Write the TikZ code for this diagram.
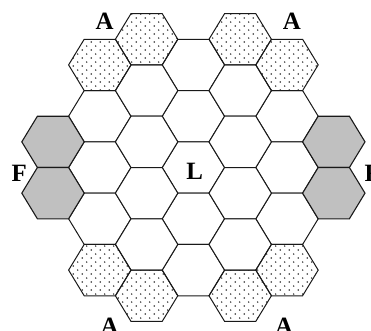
\documentclass[tikz,border=0pt]{standalone}
\usepackage{fontspec}
\setmainfont{Liberation Serif}
\usetikzlibrary{patterns}
\pgfdeclarepatternformonly{hexdots}{\pgfqpoint{0pt}{0pt}}{\pgfqpoint{9pt}{8pt}}{\pgfqpoint{9pt}{8pt}}{%
  \pgfpathcircle{\pgfqpoint{2.25pt}{2pt}}{0.8pt}%
  \pgfpathcircle{\pgfqpoint{6.75pt}{6pt}}{0.8pt}%
  \pgfusepath{fill}%
}
\definecolor{hexgray}{RGB}{192,192,192}
\tikzset{
  hex/.pic={\path[pic actions] (31.2,0) -- (15.6,25.65) -- (-15.6,25.65) -- (-31.2,0) -- (-15.6,-25.65) -- (15.6,-25.65) -- cycle;},
  whitehex/.style={draw=black!90, line width=1pt, fill=white},
  dothex/.style={draw=black!90, line width=1pt, pattern=hexdots, pattern color=black!80},
  grayhex/.style={draw=black!90, line width=1.1pt, fill=hexgray},
  lbl/.style={inner sep=0pt, font=\fontsize{25}{25}\selectfont\bfseries}
}
\begin{document}
\begin{tikzpicture}[x=1bp,y=-1bp]
\useasboundingbox (0,0) rectangle (371,331);
% centre column
\foreach \j in {-2,...,2}
  \pic[whitehex] at (193.4,{167.5+51.3*\j}) {hex};
% columns 1 and 5
\foreach \cx in {99.8,287.0} {
  \foreach \j in {-1,0,1}
    \pic[whitehex] at (\cx,{167.5+51.3*\j}) {hex};
}
% columns 2 and 4
\foreach \cx in {146.6,240.2} {
  \foreach \j in {-2,...,1}
    \pic[whitehex] at (\cx,{167.5+51.3*(\j+0.5)}) {hex};
}
% dotted hexagons
\foreach \cx in {99.8,287.0} {
  \pic[dothex] at (\cx,{167.5-2*51.3}) {hex};
  \pic[dothex] at (\cx,{167.5+2*51.3}) {hex};
}
\foreach \cx in {146.6,240.2} {
  \pic[dothex] at (\cx,{167.5-2.5*51.3}) {hex};
  \pic[dothex] at (\cx,{167.5+2.5*51.3}) {hex};
}
% gray hexagons
\foreach \cx in {53.0,333.8} {
  \pic[grayhex] at (\cx,{167.5-25.65}) {hex};
  \pic[grayhex] at (\cx,{167.5+25.65}) {hex};
}
% labels
\node[lbl] (a1) at (104.7,21.7) {A};
\node[lbl] (a2) at (291.8,21.7) {A};
\node[lbl] (a3) at (109.5,326.0) {A};
\node[lbl] (a4) at (284.0,326.0) {A};
\node[lbl] (f1) at (19.2,173.8) {F};
\node[lbl] (f2) at (372.2,173.8) {F};
\node[lbl] (l) at (194.7,171.7) {L};
\end{tikzpicture}
\end{document}
